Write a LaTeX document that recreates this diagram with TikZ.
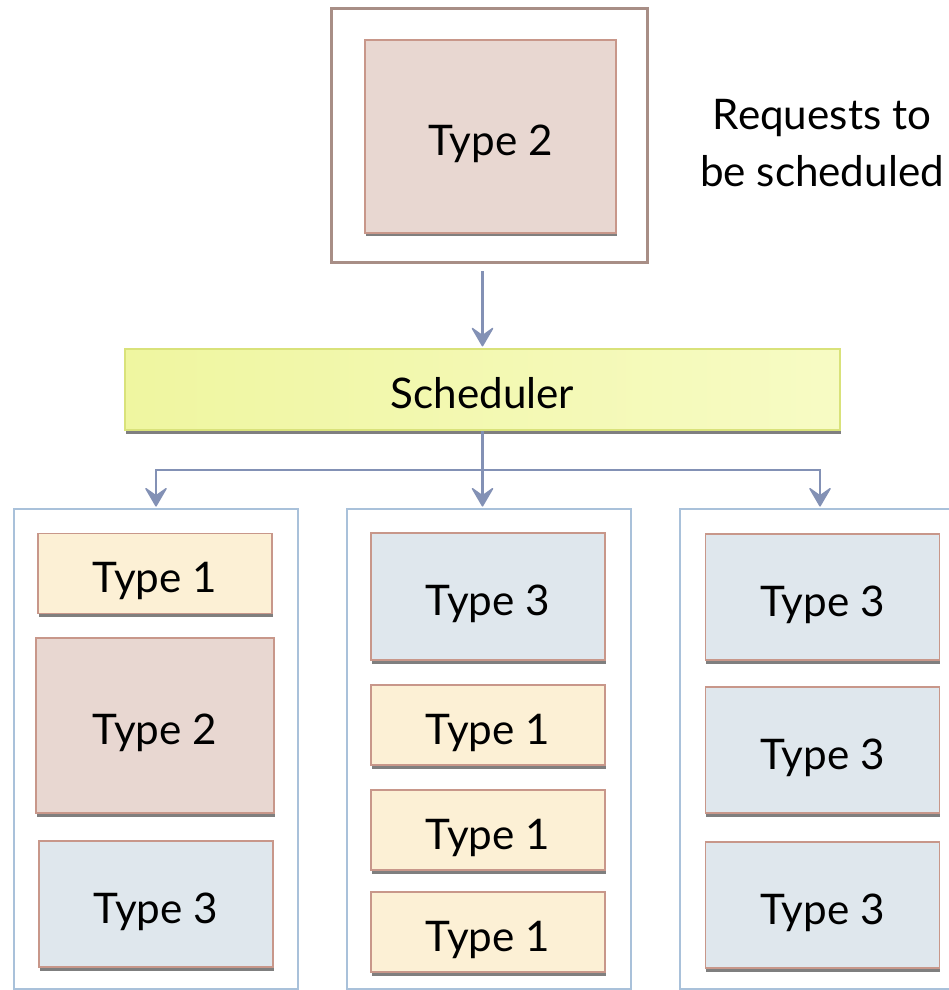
\documentclass[tikz,border=0pt]{standalone}
\usepackage{fontspec}
\setmainfont{Lato}
\usetikzlibrary{shadows,arrows.meta,positioning}

\definecolor{linkcol}{HTML}{8391B5}
\definecolor{colline}{HTML}{A9C1DA}
\definecolor{queueline}{HTML}{A88E86}
\definecolor{jobline}{HTML}{C8978A}
\definecolor{oneFill}{HTML}{FCF0D5}
\definecolor{twoFill}{HTML}{E8D7D1}
\definecolor{threeFill}{HTML}{DFE7ED}
\definecolor{schedA}{HTML}{EFF6A0}
\definecolor{schedB}{HTML}{F7FBC4}
\definecolor{schedline}{HTML}{D9E27A}

\def\colsep{333}

\begin{document}
\begin{tikzpicture}[x=0.02cm, y=-0.02cm]
		\tikzstyle{link}
		=[-{Stealth[length=12pt,width=14pt,inset=5pt,line width=0.8pt,round]}, draw=linkcol, line width=1.2pt, shorten >=1pt]
		\tikzstyle{big text}
		=[font=\fontsize{24}{32}\selectfont]
		\tikzstyle{boxed text}
		=[big text, text height=0.76cm, text depth=0pt]
		\tikzstyle{job}
		=[rectangle, draw=jobline, line width=0.9pt, minimum width=4.68cm, boxed text,
		  drop shadow={shadow xshift=0.5pt, shadow yshift=-2pt, opacity=0.5, fill=black}]
		\tikzstyle{type one}
		=[job, fill=oneFill, minimum height=1.6cm]
		\tikzstyle{type two}
		=[job, fill=twoFill]
		\tikzstyle{type three}
		=[job, fill=threeFill, minimum height=2.52cm]
		\tikzstyle{server}
		=[rectangle, draw=colline, line width=0.8pt, minimum width=5.68cm, minimum height=9.6cm]
		
		\useasboundingbox (0,0) rectangle (949,990);
		
		% Request queue at the top
		\node[rectangle, draw=queueline, line width=1.7pt, minimum width=6.34cm,
		minimum height=5.1cm] (queue) at (489.5,135.5) {};
		\node[type two, minimum width=5.02cm, minimum height=3.86cm] (Q-1) at (490.5,136.5) {Type 2};
		\node[big text, align=center] (req) at (822,143) {Requests to\\be scheduled};
		
		% The scheduler bar
		\node[rectangle, draw=schedline, line width=0.9pt, left color=schedA, right color=schedB,
		minimum width=14.3cm, minimum height=1.62cm, boxed text,
		drop shadow={shadow xshift=0.5pt, shadow yshift=-2pt, opacity=0.5, fill=black}]
		(sched) at (482.5,389.5) {Scheduler};
		
		% Draw the three servers
		\foreach \name in {1,2,3}
		\node[server] (S-\name) at ({156+(\name-1)*\colsep},749) {};
		
		% Jobs on the first server
		\node[type one] (A-1) at (155,573.5) {Type 1};
		\node[type two, minimum width=4.76cm, minimum height=3.5cm] (A-2) at (155,725.5) {Type 2};
		\node[type three] (A-3) at (156,904) {Type 3};
		
		% Jobs on the second server
		\node[type three, minimum height=2.54cm] (B-1) at (488,596.5) {Type 3};
		\foreach \name / \y in {2/725,3/830,4/932}
		\node[type one] (B-\name) at (488,\y) {Type 1};
		
		% Jobs on the third server
		\foreach \name / \y in {1/597,2/750,3/905}
		\node[type three] (C-\name) at (822.5,\y) {Type 3};
		
		% Connect the queue with the scheduler and the scheduler with the servers
		\draw[link, shorten <=4pt] (queue.south -| sched.north) -- (sched.north);
		\coordinate (fork) at (482.5,470);
		\draw[link] (sched.south) -- (sched.south |- S-2.north);
		\draw[link] (fork) -| (S-1.north);
		\draw[link] (fork) -| ([xshift=-2*0.02cm]S-3.north);
	\end{tikzpicture}
\end{document}
